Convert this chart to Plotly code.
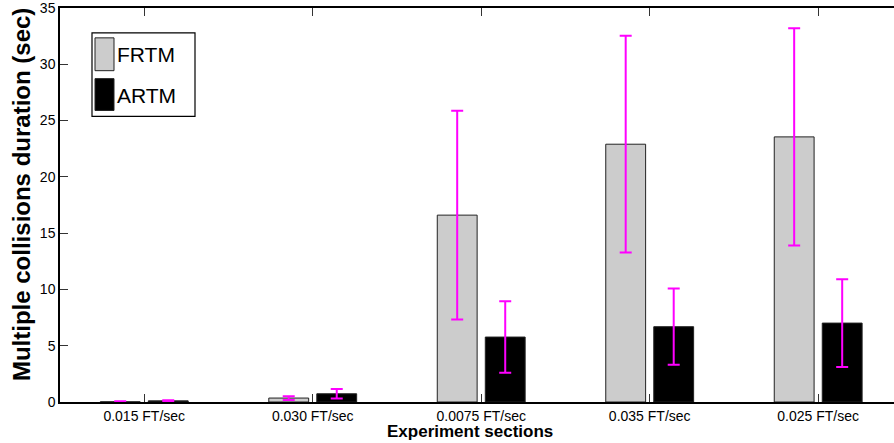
import plotly.graph_objects as go

# Experiment sections (x categories)
sections = ["0.015 FT/sec", "0.030 FT/sec", "0.0075 FT/sec", "0.035 FT/sec", "0.025 FT/sec"]

# Mean multiple-collision duration (sec) and its spread, per method
frtm_mean = [0.02, 0.35, 16.6, 22.9, 23.55]
frtm_err = [0.05, 0.17, 9.27, 9.63, 9.65]
artm_mean = [0.1, 0.73, 5.77, 6.69, 7.01]
artm_err = [0.05, 0.42, 3.18, 3.39, 3.89]

series_names = ["FRTM", "ARTM"]
series_fill = ["#cccccc", "#000000"]

W, H = 894, 443
L, R, T, B = 60, 0, 6, 41
plot_w = W - L - R
plot_h = H - T - B

FONT = "Liberation Sans, Arial, Helvetica, sans-serif"
ERR_COLOR = "#ff00ff"


def px(x):
    return (x - L) / plot_w


def py(y):
    return (H - B - y) / plot_h


fig = go.Figure()
for name, fill, mean, err in [
    (series_names[0], series_fill[0], frtm_mean, frtm_err),
    (series_names[1], series_fill[1], artm_mean, artm_err),
]:
    fig.add_trace(go.Bar(
        x=sections, y=mean, name=name,
        marker=dict(color=fill, line=dict(color="#222222", width=1)),
        error_y=dict(type="data", array=err, visible=True,
                     color=ERR_COLOR, thickness=2, width=6),
        showlegend=False,
    ))

# Legend box drawn by hand so the swatches can be tall like the label text
shapes = [
    dict(type="rect", xref="paper", yref="paper",
         x0=px(92), x1=px(195), y0=py(115), y1=py(31),
         line=dict(color="#000000", width=1.2), fillcolor="white", layer="above"),
    dict(type="rect", xref="paper", yref="paper",
         x0=px(95), x1=px(114), y0=py(69), y1=py(36),
         line=dict(color="#222222", width=1), fillcolor=series_fill[0], layer="above"),
    dict(type="rect", xref="paper", yref="paper",
         x0=px(95), x1=px(114), y0=py(109), y1=py(77),
         line=dict(color="#222222", width=1), fillcolor=series_fill[1], layer="above"),
]
annotations = [
    dict(text=series_names[0], xref="paper", yref="paper", x=px(115), y=py(53),
         xanchor="left", yanchor="middle", showarrow=False,
         font=dict(family=FONT, size=21, color="black")),
    dict(text=series_names[1], xref="paper", yref="paper", x=px(115), y=py(94),
         xanchor="left", yanchor="middle", showarrow=False,
         font=dict(family=FONT, size=21, color="black")),
    dict(text="<b>Multiple collisions duration (sec)</b>", xref="paper", yref="paper",
         x=px(21), y=py(194), xanchor="center", yanchor="middle", textangle=-90,
         showarrow=False, font=dict(family=FONT, size=24, color="black")),
    dict(text="<b>Experiment sections</b>", xref="paper", yref="paper",
         x=px(470), y=py(442), xanchor="center", yanchor="bottom", borderpad=0,
         showarrow=False, font=dict(family=FONT, size=17, color="black")),
]

fig.update_layout(
    width=W, height=H,
    margin=dict(l=L, r=R, t=T, b=B, pad=0),
    paper_bgcolor="white", plot_bgcolor="white",
    barmode="group", bargap=0.43, bargroupgap=0.17,
    shapes=shapes, annotations=annotations,
    font=dict(family=FONT, size=14, color="black"),
)
fig.update_xaxes(
    range=[-0.5, 4.45], showline=True, linecolor="#000000", linewidth=1.5,
    mirror="ticks", ticks="inside", ticklen=8, tickcolor="#333333", tickwidth=1,
    showgrid=False, zeroline=False, tickfont=dict(size=14, family=FONT),
)
fig.update_yaxes(
    range=[0, 35], dtick=5, showline=True, linecolor="#000000", linewidth=1.5,
    mirror=False, ticks="inside", ticklen=8, tickcolor="#333333", tickwidth=1,
    showgrid=False, zeroline=False, tickfont=dict(size=14, family=FONT),
    ticklabeloverflow="allow",
)

fig.write_html("out.html")
